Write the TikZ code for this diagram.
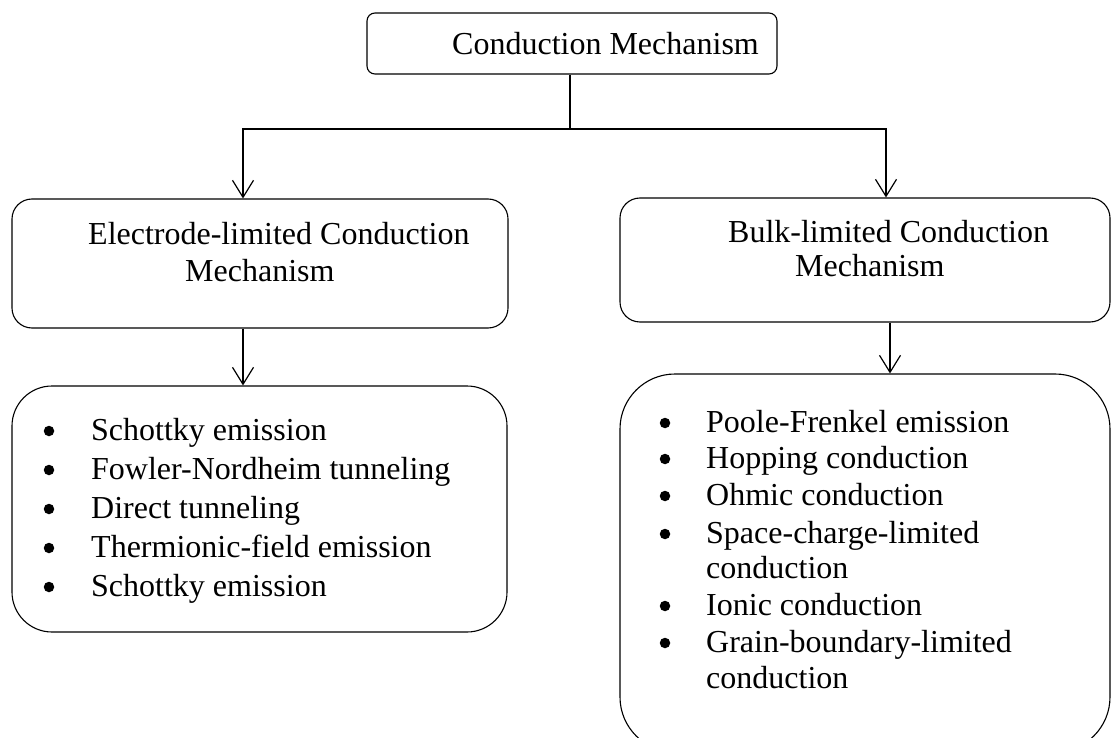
\documentclass[tikz,border=0pt]{standalone}
\usepackage{fontspec}
\setmainfont{Liberation Serif}
\usetikzlibrary{arrows.meta}
\begin{document}
\begin{tikzpicture}[x=1pt,y=-1pt,
  box/.style={draw,line width=1.1pt,rectangle,inner sep=0pt},
  txt/.style={anchor=base west,inner sep=0pt,font=\fontsize{32}{38}\selectfont},
  bul/.style={circle,fill,inner sep=0pt,minimum size=10.5pt},
  conn/.style={line width=1.3pt},
  arr/.style={line width=1.3pt,-{Straight Barb[length=17pt,width=21pt,line width=1.2pt]}}]
\clip (0,0) rectangle (1112,738);
\fill[white] (0,0) rectangle (1112,738);
% boxes
\node[box,rounded corners=8pt,minimum width=410pt,minimum height=61pt] (top) at (572,43.5) {};
\node[box,rounded corners=20pt,minimum width=496pt,minimum height=129pt] (em) at (260,263.5) {};
\node[box,rounded corners=20pt,minimum width=490pt,minimum height=124pt] (bm) at (865,260) {};
\node[box,rounded corners=40pt,minimum width=495pt,minimum height=246pt] (el) at (259.5,509) {};
\node[box,rounded corners=55pt,minimum width=490pt,minimum height=378pt] (bl) at (865,563) {};
% texts
\node[txt] (t0) at (452,55) {Conduction Mechanism};
\node[txt] (t1) at (88,245) {Electrode-limited Conduction};
\node[txt] (t2) at (185,282) {Mechanism};
\node[txt] (t3) at (728,243) {Bulk-limited Conduction};
\node[txt] (t4) at (795,277) {Mechanism};
% left list
\foreach \y/\s [count=\i] in {440/Schottky emission,479/Fowler-Nordheim tunneling,518/Direct tunneling,557/Thermionic-field emission,596/Schottky emission}{
  \node[bul] (lb\i) at (49,\y-9) {};
  \node[txt] (lt\i) at (91,\y) {\s};
}
% right list
\foreach \y [count=\i] in {432,468,505,543,615,652}{
  \node[bul] (rb\i) at (665,\y-9) {};
}
\node[txt] (rt1) at (706,432) {Poole-Frenkel emission};
\node[txt] (rt2) at (706,468) {Hopping conduction};
\node[txt] (rt3) at (706,505) {Ohmic conduction};
\node[txt] (rt4) at (706,543) {Space-charge-limited};
\node[txt] (rt5) at (706,578) {conduction};
\node[txt] (rt6) at (706,615) {Ionic conduction};
\node[txt] (rt7) at (706,652) {Grain-boundary-limited};
\node[txt] (rt8) at (706,688) {conduction};
% connectors
\coordinate (j) at (570,129);
\coordinate (lx) at (243,0);
\coordinate (rx) at (886,0);
\coordinate (rx2) at (890,0);
\draw[conn] (top.south -| j) -- (j);
\draw[arr] (j) -| (em.north -| lx);
\draw[arr] (j) -| (bm.north -| rx);
\draw[arr] (em.south -| lx) -- (el.north -| lx);
\draw[arr] (bm.south -| rx2) -- (bl.north -| rx2);
\end{tikzpicture}
\end{document}
